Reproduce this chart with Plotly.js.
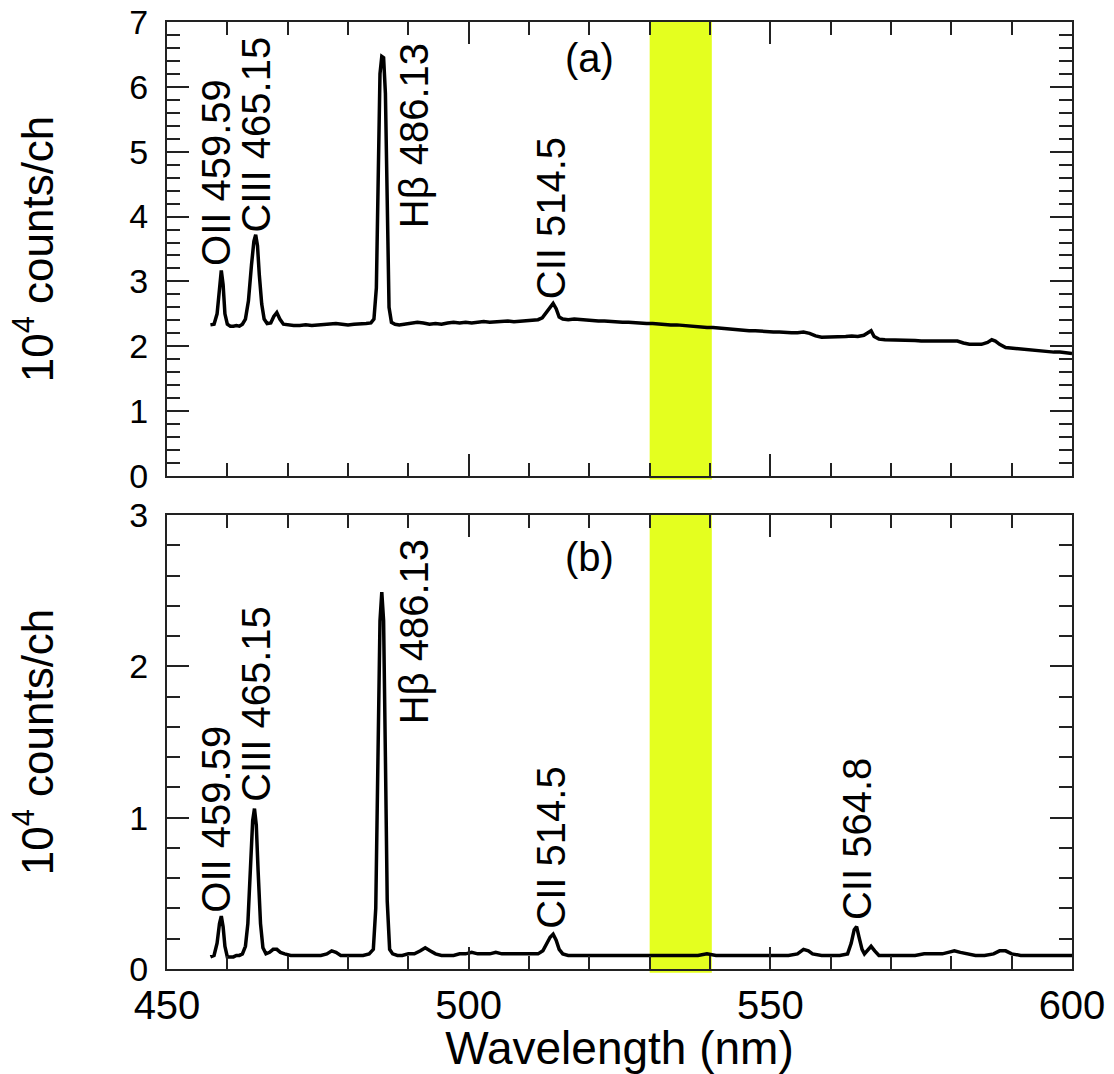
<!DOCTYPE html>
<html>
<head>
<meta charset="utf-8">
<script src="https://cdn.plot.ly/plotly-3.0.1.min.js"></script>
<style>html,body{margin:0;padding:0;background:#fff;}#chart{width:1114px;height:1074px;}</style>
</head>
<body>
<div id="chart"></div>
<script>
// ---- Panel (a) spectrum ----
var wavelengthA = [457.2,457.8,458.3,458.7,459.0,459.3,459.6,460.0,460.5,461.0,461.5,462.0,462.5,463.0,463.5,464.0,464.4,464.7,465.0,465.3,465.7,466.1,466.6,467.2,467.7,468.2,468.7,469.3,470,471,472,473,474,475,476,477,478,479,480,481,482,483,483.8,484.3,484.7,485.0,485.3,485.6,485.9,486.2,486.5,486.8,487.2,487.8,488.5,489.5,490.5,491.5,492.5,493.5,494.5,495.5,496.5,497.5,498.5,499.5,500.5,501.5,502.5,503.5,504.5,505.5,506.5,507.5,508.5,509.5,510.5,511.5,512.2,512.8,513.4,514.0,514.5,515.0,515.6,516.5,517.5,518.5,519.5,520.5,521.5,522.5,523.5,524.5,525.5,526.5,527.5,528.5,529.5,530.5,531.5,532.5,533.5,534.5,535.5,536.5,537.5,538.5,539.5,540.5,541.5,542.5,543.5,544.5,545.5,546.5,547.5,548.5,549.5,550.5,551.5,552.5,553.5,554.5,555.5,556.5,557.5,558.5,559.5,560.5,561.5,562.5,563.5,564.5,565.5,566.2,566.7,567.2,568,569,570,571,572,573,574,575,576,577,578,579,580,581,582,583,584,585,586,586.7,587.3,588,589,590,591,592,593,594,595,596,597,598,599,600];
var countsA = [2.33,2.34,2.50,2.95,3.17,2.95,2.50,2.34,2.31,2.31,2.32,2.31,2.34,2.42,2.70,3.25,3.62,3.72,3.55,3.10,2.65,2.42,2.35,2.36,2.46,2.52,2.42,2.34,2.33,2.32,2.32,2.33,2.32,2.33,2.34,2.34,2.35,2.34,2.33,2.34,2.34,2.35,2.36,2.42,2.90,4.40,6.20,6.47,6.45,5.90,4.00,2.60,2.37,2.34,2.33,2.34,2.35,2.37,2.36,2.34,2.35,2.34,2.36,2.37,2.36,2.37,2.36,2.37,2.38,2.37,2.38,2.38,2.39,2.38,2.39,2.40,2.40,2.41,2.44,2.52,2.58,2.66,2.58,2.45,2.42,2.41,2.42,2.41,2.40,2.40,2.39,2.39,2.38,2.37,2.37,2.37,2.36,2.36,2.35,2.35,2.34,2.34,2.33,2.33,2.32,2.31,2.30,2.30,2.29,2.29,2.28,2.27,2.27,2.26,2.25,2.24,2.24,2.23,2.22,2.22,2.22,2.21,2.21,2.21,2.22,2.20,2.16,2.14,2.14,2.14,2.15,2.15,2.16,2.15,2.17,2.22,2.24,2.15,2.11,2.10,2.10,2.09,2.09,2.09,2.09,2.08,2.08,2.08,2.07,2.07,2.07,2.08,2.05,2.03,2.03,2.03,2.06,2.10,2.08,2.03,1.98,1.97,1.96,1.96,1.95,1.93,1.92,1.92,1.91,1.91,1.90,1.89];

// ---- Panel (b) spectrum ----
var wavelengthB = [457.2,457.8,458.3,458.7,459.0,459.3,459.6,460.0,460.5,461.0,461.5,462.0,462.5,463.0,463.4,463.8,464.2,464.5,464.8,465.1,465.5,465.9,466.4,467.0,467.6,468.2,468.8,469.5,470.5,471.5,472.5,473.5,474.5,475.5,476.5,477.3,478.0,478.8,479.5,480.5,481.5,482.5,483.5,484.2,484.6,485.0,485.3,485.6,485.9,486.2,486.5,486.9,487.4,488.2,489.0,490.0,491.0,492.0,492.8,493.6,494.5,495.5,496.5,497.5,498.5,499.5,500.5,501.5,502.5,503.5,504.5,505.5,506.5,507.5,508.5,509.5,510.5,511.5,512.3,512.9,513.5,514.0,514.5,515.0,515.6,516.5,518,520,522,524,526,528,530,532,534,536,538,539.5,541,543,545,547,549,551,553,554.5,555.5,556.3,557,558.5,560,561.5,562.8,563.4,563.9,564.3,564.7,565.2,565.6,566.2,566.7,567.3,568,569.5,571,572.5,574,575.5,577,578.5,579.5,580.5,581.5,582.5,584,585.5,587,588,589,590,591.5,593,595,597,598.5,600];
var countsB = [0.08,0.09,0.17,0.30,0.35,0.28,0.15,0.08,0.08,0.08,0.09,0.09,0.10,0.15,0.30,0.65,0.98,1.06,0.95,0.65,0.30,0.14,0.10,0.11,0.13,0.13,0.11,0.10,0.09,0.09,0.09,0.09,0.09,0.09,0.10,0.12,0.11,0.09,0.09,0.09,0.09,0.09,0.10,0.13,0.40,1.40,2.30,2.49,2.30,1.40,0.45,0.13,0.10,0.09,0.09,0.10,0.10,0.12,0.14,0.12,0.10,0.09,0.09,0.09,0.10,0.10,0.11,0.10,0.10,0.10,0.11,0.10,0.10,0.10,0.10,0.10,0.10,0.10,0.12,0.17,0.21,0.23,0.19,0.13,0.10,0.09,0.09,0.09,0.09,0.09,0.09,0.09,0.09,0.09,0.09,0.09,0.09,0.10,0.09,0.09,0.09,0.09,0.09,0.09,0.09,0.10,0.13,0.12,0.10,0.09,0.09,0.09,0.10,0.17,0.26,0.28,0.21,0.13,0.10,0.13,0.15,0.12,0.09,0.09,0.09,0.09,0.09,0.10,0.10,0.10,0.11,0.12,0.11,0.10,0.09,0.09,0.10,0.12,0.12,0.10,0.09,0.09,0.09,0.09,0.09,0.09];

// ---- Labels ----
var lineLabels = ["OII 459.59", "CIII 465.15", "H\u03b2 486.13", "CII 514.5"];
var lineLabelX = [458.2, 464.7, 490.9, 513.6];
var lineLabelYA = [4.68, 5.26, 5.25, 3.97];
var lineLabelYB = [0.99, 1.75, 2.23, 0.80];
var extraLabelB = "CII 564.8";
var extraLabelX = 564.4;
var extraLabelY = 0.86;
var panelLabels = ["(a)", "(b)"];
var yTitle = "10<sup>4</sup> counts/ch";
var xTitle = "Wavelength (nm)";
var bandRange = [530, 540];

var FONT = "Liberation Sans, Arial, Helvetica, sans-serif";
var AX = "#222";

var traces = [
  {x: wavelengthA, y: countsA, xaxis: "x2", yaxis: "y2", mode: "lines",
   line: {color: "#000", width: 3.5}, showlegend: false, hoverinfo: "skip"},
  {x: wavelengthB, y: countsB, xaxis: "x", yaxis: "y", mode: "lines",
   line: {color: "#000", width: 3.5}, showlegend: false, hoverinfo: "skip"}
];

function xax(extra) {
  var a = {range: [450, 600], tick0: 450, dtick: 50, ticks: "inside", ticklen: 22, tickwidth: 2,
    tickcolor: AX, showline: true, linecolor: AX, linewidth: 2, mirror: "allticks",
    showgrid: false, zeroline: false,
    minor: {dtick: 10, tick0: 450, ticks: "inside", ticklen: 13, tickwidth: 2, tickcolor: AX, showgrid: false},
    tickfont: {family: FONT, size: 40, color: "#000"}};
  for (var k in extra) a[k] = extra[k];
  return a;
}
function yax(extra) {
  var a = {dtick: 1, ticks: "inside", ticklen: 22, tickwidth: 2, tickcolor: AX,
    showline: true, linecolor: AX, linewidth: 2, mirror: "allticks",
    showgrid: false, zeroline: false, ticklabelstandoff: 10,
    minor: {dtick: 0.2, ticks: "inside", ticklen: 13, tickwidth: 2, tickcolor: AX, showgrid: false},
    tickfont: {family: FONT, size: 34, color: "#000"},
    title: {text: yTitle, font: {family: FONT, size: 44, color: "#000"}, standoff: 62}};
  for (var k in extra) a[k] = extra[k];
  return a;
}

var annotations = [];
function addLabels(xref, yref, ys) {
  for (var i = 0; i < lineLabels.length; i++) {
    annotations.push({text: lineLabels[i], x: lineLabelX[i], y: ys[i], xref: xref, yref: yref,
      textangle: -90, showarrow: false, xanchor: "center", yanchor: "middle",
      font: {family: FONT, size: 40, color: "#000"}});
  }
}
addLabels("x2", "y2", lineLabelYA);
addLabels("x", "y", lineLabelYB);
annotations.push({text: extraLabelB, x: extraLabelX, y: extraLabelY, xref: "x", yref: "y",
  textangle: -90, showarrow: false, xanchor: "center", yanchor: "middle",
  font: {family: FONT, size: 40, color: "#000"}});
annotations.push({text: panelLabels[0], x: 520.1, y: 6.45, xref: "x2", yref: "y2", showarrow: false,
  xanchor: "center", yanchor: "middle", font: {family: FONT, size: 40, color: "#000"}});
annotations.push({text: panelLabels[1], x: 520.1, y: 2.72, xref: "x", yref: "y", showarrow: false,
  xanchor: "center", yanchor: "middle", font: {family: FONT, size: 40, color: "#000"}});

var shapes = [
  {type: "rect", xref: "x2", yref: "y2 domain", x0: bandRange[0], x1: bandRange[1] + 0.3, y0: -0.008, y1: 1,
   fillcolor: "#E4FF1F", line: {width: 0}, layer: "below"},
  {type: "rect", xref: "x", yref: "y domain", x0: bandRange[0], x1: bandRange[1] + 0.3, y0: -0.008, y1: 1,
   fillcolor: "#E4FF1F", line: {width: 0}, layer: "below"}
];

var layout = {
  width: 1114, height: 1074,
  margin: {l: 167, r: 42, t: 22, b: 105},
  paper_bgcolor: "#fff", plot_bgcolor: "rgba(0,0,0,0)",
  font: {family: FONT, color: "#000"},
  xaxis: xax({anchor: "y", domain: [0, 1],
    title: {text: xTitle, font: {family: FONT, size: 46, color: "#000"}, standoff: 0}}),
  yaxis: yax({anchor: "x", domain: [0, 0.4794], range: [0, 3]}),
  xaxis2: xax({anchor: "y2", domain: [0, 1], matches: "x", showticklabels: false}),
  yaxis2: yax({anchor: "x2", domain: [0.5206, 1], range: [0, 7]}),
  annotations: annotations,
  shapes: shapes,
  showlegend: false
};

Plotly.newPlot("chart", traces, layout, {displayModeBar: false, staticPlot: true});
</script>
</body>
</html>
